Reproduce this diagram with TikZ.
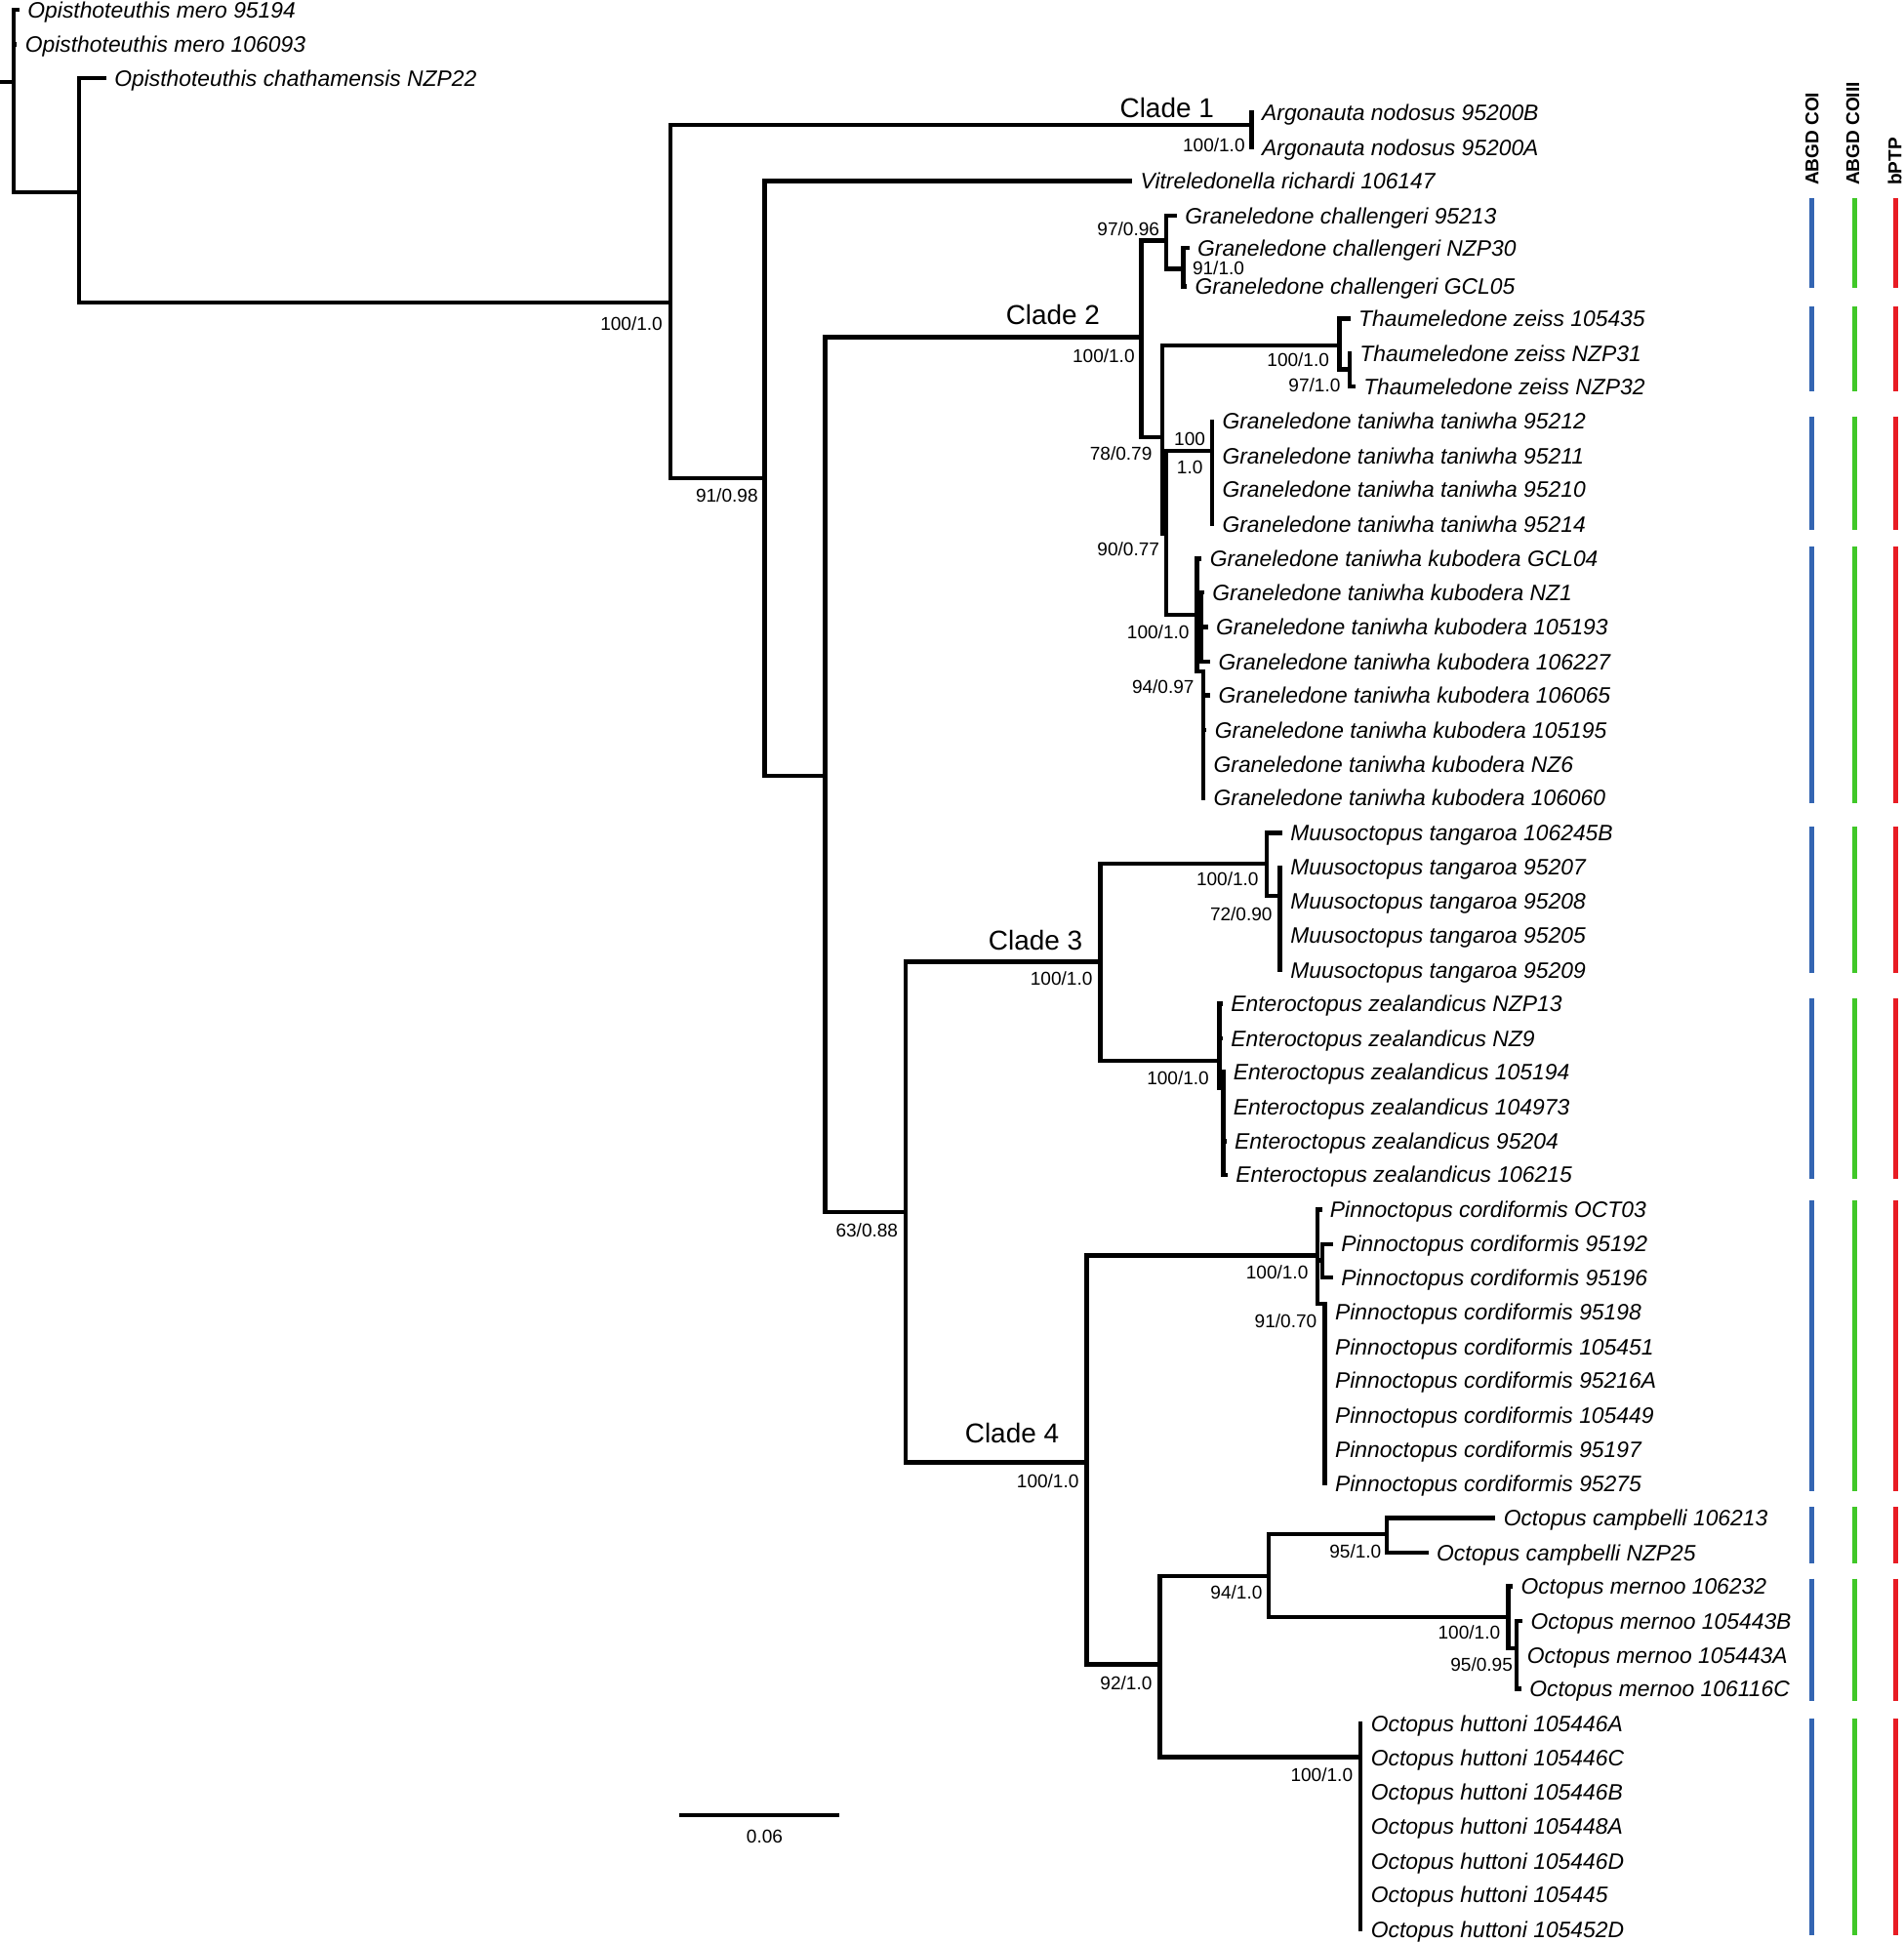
\documentclass[tikz,border=0pt]{standalone}
\usepackage{fontspec}
\setmainfont{Liberation Sans}
\definecolor{coiblue}{RGB}{52,101,178}
\definecolor{coiiigreen}{RGB}{64,200,40}
\definecolor{ptpred}{RGB}{232,28,36}

\begin{document}
\begin{tikzpicture}[x=0.5pt, y=-0.5pt,
    br/.style={line width=1.75pt, line cap=rect},
    tip/.style={anchor=west, inner xsep=4pt, inner ysep=0pt, text height=6.4pt, text depth=0pt, font=\fontsize{9}{10}\selectfont\itshape},
    supp/.style={anchor=east, inner sep=0pt, text height=5.4pt, text depth=0pt, font=\fontsize{7.5}{9}\selectfont},
    clade/.style={anchor=base east, inner sep=0pt, font=\fontsize{11}{13}\selectfont},
    hdr/.style={rotate=90, anchor=west, inner sep=0pt, text height=5.4pt, text depth=0pt, font=\fontsize{7.5}{9}\selectfont\bfseries},
    bar/.style={line width=1.9pt, line cap=butt}]
            \useasboundingbox (0,0) rectangle (1536,1568);

            % internal nodes
            \coordinate (r0) at (0,66);
            \coordinate (nR) at (11,66);
            \coordinate (nOp) at (64,155);
            \coordinate (nIn) at (541,244);
            \coordinate (nC1) at (1010,101);
            \coordinate (nA) at (617,386);
            \coordinate (nB) at (666,626);
            \coordinate (nC2) at (921,272);
            \coordinate (nCh) at (941,194);
            \coordinate (nCh2) at (955,217);
            \coordinate (nA2) at (938,353);
            \coordinate (nT1) at (1081,279);
            \coordinate (nT2) at (1089,298);
            \coordinate (nB2) at (941,431);
            \coordinate (nTt) at (978,364);
            \coordinate (nK1) at (966,496);
            \coordinate (nK1b) at (969,506);
            \coordinate (nK2) at (971,542);
            \coordinate (n63) at (731,978);
            \coordinate (nC3) at (888,776);
            \coordinate (nM1) at (1022,697);
            \coordinate (nM2) at (1033,723);
            \coordinate (nE1) at (984,856);
            \coordinate (nE2) at (987,878);
            \coordinate (nC4) at (877,1180);
            \coordinate (nP1) at (1063,1013);
            \coordinate (nP1b) at (1067,1017);
            \coordinate (nP2) at (1069,1052);
            \coordinate (nO1) at (936,1343);
            \coordinate (nO2) at (1024,1272);
            \coordinate (nCa) at (1119,1238);
            \coordinate (nMe) at (1217,1305);
            \coordinate (nMe2) at (1224,1330);
            \coordinate (nH) at (1098,1418);

            % tips
            \node[tip] (Om1) at (14,8) {Opisthoteuthis mero 95194};
            \node[tip] (Om2) at (12,36) {Opisthoteuthis mero 106093};
            \node[tip] (Oc) at (84,63) {Opisthoteuthis chathamensis NZP22};
            \node[tip] (An1) at (1010,91) {Argonauta nodosus 95200B};
            \node[tip] (An2) at (1010,119) {Argonauta nodosus 95200A};
            \node[tip] (Vr) at (912,146) {Vitreledonella richardi 106147};
            \node[tip] (Gc1) at (948,174) {Graneledone challengeri 95213};
            \node[tip] (Gc2) at (958,200) {Graneledone challengeri NZP30};
            \node[tip] (Gc3) at (956,231) {Graneledone challengeri GCL05};
            \node[tip] (Tz1) at (1088,257) {Thaumeledone zeiss 105435};
            \node[tip] (Tz2) at (1089,285) {Thaumeledone zeiss NZP31};
            \node[tip] (Tz3) at (1092,312) {Thaumeledone zeiss NZP32};
            \node[tip] (Tt1) at (978,340) {Graneledone taniwha taniwha 95212};
            \node[tip] (Tt2) at (978,368) {Graneledone taniwha taniwha 95211};
            \node[tip] (Tt3) at (978,395) {Graneledone taniwha taniwha 95210};
            \node[tip] (Tt4) at (978,423) {Graneledone taniwha taniwha 95214};
            \node[tip] (Kb1) at (968,451) {Graneledone taniwha kubodera GCL04};
            \node[tip] (Kb2) at (970,478) {Graneledone taniwha kubodera NZ1};
            \node[tip] (Kb3) at (973,506) {Graneledone taniwha kubodera 105193};
            \node[tip] (Kb4) at (975,534) {Graneledone taniwha kubodera 106227};
            \node[tip] (Kb5) at (975,561) {Graneledone taniwha kubodera 106065};
            \node[tip] (Kb6) at (972,589) {Graneledone taniwha kubodera 105195};
            \node[tip] (Kb7) at (971,617) {Graneledone taniwha kubodera NZ6};
            \node[tip] (Kb8) at (971,644) {Graneledone taniwha kubodera 106060};
            \node[tip] (Mt1) at (1033,672) {Muusoctopus tangaroa 106245B};
            \node[tip] (Mt2) at (1033,700) {Muusoctopus tangaroa 95207};
            \node[tip] (Mt3) at (1033,727) {Muusoctopus tangaroa 95208};
            \node[tip] (Mt4) at (1033,755) {Muusoctopus tangaroa 95205};
            \node[tip] (Mt5) at (1033,783) {Muusoctopus tangaroa 95209};
            \node[tip] (Ez1) at (985,810) {Enteroctopus zealandicus NZP13};
            \node[tip] (Ez2) at (985,838) {Enteroctopus zealandicus NZ9};
            \node[tip] (Ez3) at (987,865) {Enteroctopus zealandicus 105194};
            \node[tip] (Ez4) at (987,893) {Enteroctopus zealandicus 104973};
            \node[tip] (Ez5) at (988,921) {Enteroctopus zealandicus 95204};
            \node[tip] (Ez6) at (989,948) {Enteroctopus zealandicus 106215};
            \node[tip] (Pc1) at (1065,976) {Pinnoctopus cordiformis OCT03};
            \node[tip] (Pc2) at (1074,1004) {Pinnoctopus cordiformis 95192};
            \node[tip] (Pc3) at (1074,1031) {Pinnoctopus cordiformis 95196};
            \node[tip] (Pc4) at (1069,1059) {Pinnoctopus cordiformis 95198};
            \node[tip] (Pc5) at (1069,1087) {Pinnoctopus cordiformis 105451};
            \node[tip] (Pc6) at (1069,1114) {Pinnoctopus cordiformis 95216A};
            \node[tip] (Pc7) at (1069,1142) {Pinnoctopus cordiformis 105449};
            \node[tip] (Pc8) at (1069,1170) {Pinnoctopus cordiformis 95197};
            \node[tip] (Pc9) at (1069,1197) {Pinnoctopus cordiformis 95275};
            \node[tip] (Oca1) at (1205,1225) {Octopus campbelli 106213};
            \node[tip] (Oca2) at (1151,1253) {Octopus campbelli NZP25};
            \node[tip] (Ome1) at (1219,1280) {Octopus mernoo 106232};
            \node[tip] (Ome2) at (1227,1308) {Octopus mernoo 105443B};
            \node[tip] (Ome3) at (1224,1336) {Octopus mernoo 105443A};
            \node[tip] (Ome4) at (1226,1363) {Octopus mernoo 106116C};
            \node[tip] (Oh1) at (1098,1391) {Octopus huttoni 105446A};
            \node[tip] (Oh2) at (1098,1419) {Octopus huttoni 105446C};
            \node[tip] (Oh3) at (1098,1446) {Octopus huttoni 105446B};
            \node[tip] (Oh4) at (1098,1474) {Octopus huttoni 105448A};
            \node[tip] (Oh5) at (1098,1502) {Octopus huttoni 105446D};
            \node[tip] (Oh6) at (1098,1529) {Octopus huttoni 105445};
            \node[tip] (Oh7) at (1098,1557) {Octopus huttoni 105452D};

            % branches
            \draw[br] (r0) -- (nR);
            \draw[br] (nR) |- (Om1);
            \draw[br] (nR) |- (Om2);
            \draw[br] (nR) |- (nOp);
            \draw[br] (nOp) |- (Oc);
            \draw[br] (nOp) |- (nIn);
            \draw[br] (nIn) |- (nC1);
            \draw[br] (nIn) |- (nA);
            \draw[br] (nC1) |- (An1);
            \draw[br] (nC1) |- (An2);
            \draw[br] (nA) |- (Vr);
            \draw[br] (nA) |- (nB);
            \draw[br] (nB) |- (nC2);
            \draw[br] (nB) |- (n63);
            \draw[br] (nC2) |- (nCh);
            \draw[br] (nC2) |- (nA2);
            \draw[br] (nCh) |- (Gc1);
            \draw[br] (nCh) |- (nCh2);
            \draw[br] (nCh2) |- (Gc2);
            \draw[br] (nCh2) |- (Gc3);
            \draw[br] (nA2) |- (nT1);
            \draw[br] (nA2) |- (nB2);
            \draw[br] (nT1) |- (Tz1);
            \draw[br] (nT1) |- (nT2);
            \draw[br] (nT2) |- (Tz2);
            \draw[br] (nT2) |- (Tz3);
            \draw[br] (nB2) |- (nTt);
            \draw[br] (nB2) |- (nK1);
            \draw[br] (nTt) |- (Tt1);
            \draw[br] (nTt) |- (Tt2);
            \draw[br] (nTt) |- (Tt3);
            \draw[br] (nTt) |- (Tt4);
            \draw[br] (nK1) |- (Kb1);
            \draw[br] (nK1) |- (nK1b);
            \draw[br] (nK1) |- (nK2);
            \draw[br] (nK1b) |- (Kb2);
            \draw[br] (nK1b) |- (Kb3);
            \draw[br] (nK1b) |- (Kb4);
            \draw[br] (nK2) |- (Kb5);
            \draw[br] (nK2) |- (Kb6);
            \draw[br] (nK2) |- (Kb7);
            \draw[br] (nK2) |- (Kb8);
            \draw[br] (n63) |- (nC3);
            \draw[br] (n63) |- (nC4);
            \draw[br] (nC3) |- (nM1);
            \draw[br] (nC3) |- (nE1);
            \draw[br] (nM1) |- (Mt1);
            \draw[br] (nM1) |- (nM2);
            \draw[br] (nM2) |- (Mt2);
            \draw[br] (nM2) |- (Mt3);
            \draw[br] (nM2) |- (Mt4);
            \draw[br] (nM2) |- (Mt5);
            \draw[br] (nE1) |- (Ez1);
            \draw[br] (nE1) |- (Ez2);
            \draw[br] (nE1) |- (nE2);
            \draw[br] (nE2) |- (Ez3);
            \draw[br] (nE2) |- (Ez4);
            \draw[br] (nE2) |- (Ez5);
            \draw[br] (nE2) |- (Ez6);
            \draw[br] (nC4) |- (nP1);
            \draw[br] (nC4) |- (nO1);
            \draw[br] (nP1) |- (Pc1);
            \draw[br] (nP1) |- (nP1b);
            \draw[br] (nP1) |- (nP2);
            \draw[br] (nP1b) |- (Pc2);
            \draw[br] (nP1b) |- (Pc3);
            \draw[br] (nP2) |- (Pc4);
            \draw[br] (nP2) |- (Pc5);
            \draw[br] (nP2) |- (Pc6);
            \draw[br] (nP2) |- (Pc7);
            \draw[br] (nP2) |- (Pc8);
            \draw[br] (nP2) |- (Pc9);
            \draw[br] (nO1) |- (nO2);
            \draw[br] (nO1) |- (nH);
            \draw[br] (nO2) |- (nCa);
            \draw[br] (nO2) |- (nMe);
            \draw[br] (nCa) |- (Oca1);
            \draw[br] (nCa) |- (Oca2);
            \draw[br] (nMe) |- (Ome1);
            \draw[br] (nMe) |- (nMe2);
            \draw[br] (nMe2) |- (Ome2);
            \draw[br] (nMe2) |- (Ome3);
            \draw[br] (nMe2) |- (Ome4);
            \draw[br] (nH) |- (Oh1);
            \draw[br] (nH) |- (Oh2);
            \draw[br] (nH) |- (Oh3);
            \draw[br] (nH) |- (Oh4);
            \draw[br] (nH) |- (Oh5);
            \draw[br] (nH) |- (Oh6);
            \draw[br] (nH) |- (Oh7);

            % support values
            \node[supp] (sIn) at (535,261) {100/1.0};
            \node[supp] (sA) at (612,400) {91/0.98};
            \node[supp] (sC1) at (1005,117) {100/1.0};
            \node[supp] (sC2) at (916,287) {100/1.0};
            \node[supp] (sCh) at (936,185) {97/0.96};
            \node[supp, anchor=west] (sCh2) at (962,216) {91/1.0};
            \node[supp] (sA2) at (930,366) {78/0.79};
            \node[supp] (sT1) at (1073,290) {100/1.0};
            \node[supp] (sT2) at (1082,311) {97/1.0};
            \node[supp] (sB2) at (936,443) {90/0.77};
            \node[supp] (sTa) at (973,354) {100};
            \node[supp] (sTb) at (971,377) {1.0};
            \node[supp] (sK1) at (960,510) {100/1.0};
            \node[supp] (sK2) at (964,554) {94/0.97};
            \node[supp] (s63) at (725,993) {63/0.88};
            \node[supp] (sC3) at (882,790) {100/1.0};
            \node[supp] (sM1) at (1016,709) {100/1.0};
            \node[supp] (sM2) at (1027,738) {72/0.90};
            \node[supp] (sE1) at (976,870) {100/1.0};
            \node[supp] (sC4) at (871,1195) {100/1.0};
            \node[supp] (sP1) at (1056,1027) {100/1.0};
            \node[supp] (sP2) at (1063,1066) {91/0.70};
            \node[supp] (sO1) at (930,1358) {92/1.0};
            \node[supp] (sO2) at (1019,1285) {94/1.0};
            \node[supp] (sCa) at (1115,1252) {95/1.0};
            \node[supp] (sMe) at (1211,1317) {100/1.0};
            \node[supp] (sMe2) at (1221,1343) {95/0.95};
            \node[supp] (sH) at (1092,1432) {100/1.0};

            % clade names
            \node[clade] (cl1) at (980,95) {Clade 1};
            \node[clade] (cl2) at (888,262) {Clade 2};
            \node[clade] (cl3) at (874,767) {Clade 3};
            \node[clade] (cl4) at (855,1164) {Clade 4};

            % scale bar
            \coordinate (sb0) at (548,1465);
            \coordinate (sb1) at (677,1465);
            \draw[br, line cap=butt] (sb0) -- (sb1);
            \node[supp, anchor=center] (sbl) at (617,1482) {0.06};

            % delimitation columns
            \node[hdr] (hCOI) at (1462,150) {ABGD COI};
            \node[hdr] (hCOIII) at (1495,150) {ABGD COIII};
            \node[hdr] (hPTP) at (1529,150) {bPTP};
            \draw[bar, coiblue] (1462,160) -- (1462,232) (1462,247) -- (1462,316) (1462,336) -- (1462,428)
                (1462,441) -- (1462,648) (1462,667) -- (1462,785) (1462,806) -- (1462,951)
                (1462,969) -- (1462,1203) (1462,1216) -- (1462,1262) (1462,1274) -- (1462,1373)
                (1462,1387) -- (1462,1562);
            \draw[bar, coiiigreen] (1497,160) -- (1497,232) (1497,247) -- (1497,316) (1497,336) -- (1497,428)
                (1497,441) -- (1497,648) (1497,667) -- (1497,785) (1497,806) -- (1497,951)
                (1497,969) -- (1497,1203) (1497,1216) -- (1497,1262) (1497,1274) -- (1497,1373)
                (1497,1387) -- (1497,1562);
            \draw[bar, ptpred] (1530,160) -- (1530,232) (1530,247) -- (1530,316) (1530,336) -- (1530,428)
                (1530,441) -- (1530,648) (1530,667) -- (1530,785) (1530,806) -- (1530,951)
                (1530,969) -- (1530,1203) (1530,1216) -- (1530,1262) (1530,1274) -- (1530,1373)
                (1530,1387) -- (1530,1562);
        \end{tikzpicture}
\end{document}
